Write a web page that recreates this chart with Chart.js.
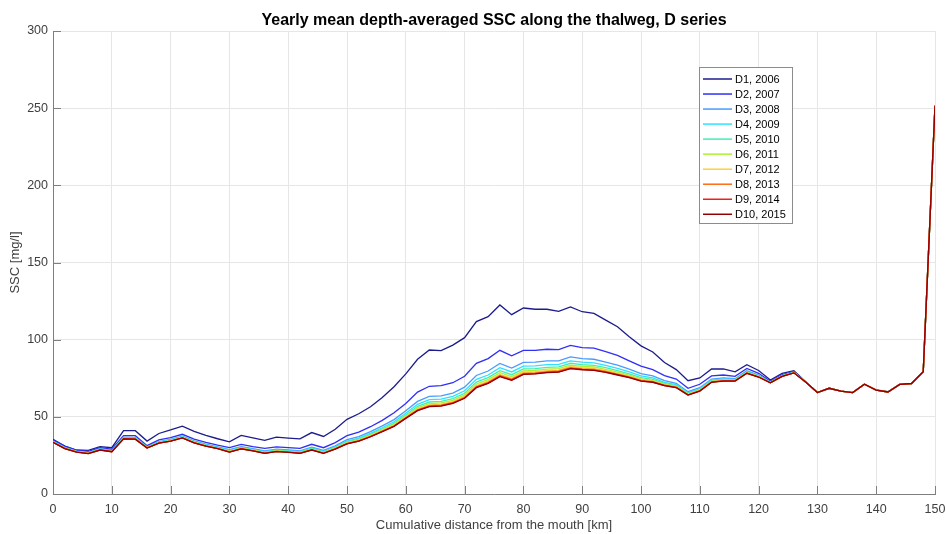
<!DOCTYPE html>
<html>
<head>
<meta charset="utf-8">
<script src="https://cdn.jsdelivr.net/npm/chart.js@4.4.1/dist/chart.umd.min.js"></script>
<style>
  html, body { margin: 0; padding: 0; background: #fff; }
  #wrap { width: 946px; height: 534px; }
</style>
</head>
<body>
<div id="wrap"><canvas id="ssc" width="946" height="534"></canvas></div>
<script>
// cumulative distance from the mouth [km]
const distance = [
  0, 2, 4, 6, 8, 10, 12, 14, 16, 18, 20, 22, 24, 26, 28, 30, 32, 34, 36, 38,
  40, 42, 44, 46, 48, 50, 52, 54, 56, 58, 60, 62, 64, 66, 68, 70, 72, 74, 76, 78,
  80, 82, 84, 86, 88, 90, 92, 94, 96, 98, 100, 102, 104, 106, 108, 110, 112, 114, 116, 118,
  120, 122, 124, 126, 128, 130, 132, 134, 136, 138, 140, 142, 144, 146, 148, 150
];

// yearly mean depth-averaged SSC [mg/l], one array per run
const d1 = [
  35.5, 31, 28.5, 28.3, 30.7, 30, 41, 41, 34.3, 39.2,
  41.5, 44, 40.6, 38, 35.8, 33.8, 38, 36.4, 34.7, 36.8,
  36.2, 35.7, 39.8, 37.3, 42, 48.4, 52, 56.5, 62.5, 69.5,
  77.8, 87.3, 93.3, 92.9, 96.5, 101.3, 111.7, 114.9, 122.5, 116.2,
  120.5, 119.7, 119.7, 118.4, 121.2, 118.1, 117, 112.7, 108.4, 101.9,
  96, 92, 85.2, 80.6, 73.4, 75.2, 81, 81, 79.2, 83.8,
  80, 73.9, 78.2, 79.9, 72.8, 65.7, 68.5, 66.7, 65.7, 71.1,
  67.4, 66.3, 71.1, 71.7, 79.3, 251.5
];
const d2 = [
  35, 31, 28.3, 27.7, 30, 29, 37.8, 37.8, 31.3, 35,
  36.5, 38.7, 35.6, 33.5, 31.7, 30.1, 32.2, 30.7, 29.6, 30.5,
  30, 29.6, 32.2, 30, 33.3, 37.8, 40.1, 43.6, 47.7, 52.6,
  58.7, 66, 69.8, 70.2, 72.1, 76.3, 84.7, 87.7, 93.1, 89.5,
  93, 93, 93.8, 93.6, 96.3, 94.8, 94.5, 92.2, 89.8, 86.3,
  82.8, 80.6, 76.7, 74.5, 68.5, 71.1, 76.5, 77.1, 76.2, 81.4,
  78.2, 73, 77.3, 79.2, 72.6, 65.7, 68.5, 66.7, 65.7, 71.1,
  67.3, 66.1, 71.0, 71.6, 79.3, 251.5
];
const d3 = [
  34.3, 30.2, 27.8, 27.0, 29.3, 28.2, 36.8, 36.7, 30.6, 34.0,
  35.4, 37.5, 34.4, 32.3, 30.6, 28.7, 30.7, 29.4, 28.0, 29.0,
  28.5, 28.0, 30.4, 28.2, 31.2, 35.2, 37.2, 40.4, 44.1, 48.2,
  53.9, 60.0, 63.2, 63.6, 65.4, 69.2, 76.8, 79.7, 84.6, 81.6,
  85.3, 85.4, 86.2, 86.3, 88.8, 87.7, 87.3, 85.5, 83.5, 80.9,
  78.0, 76.5, 73.5, 71.7, 66.3, 68.9, 74.5, 75.2, 74.7, 79.8,
  77.0, 72.5, 76.8, 78.9, 72.6, 65.7, 68.5, 66.7, 65.7, 71.1,
  67.3, 66.1, 71.0, 71.6, 79.3, 251.5
];
const d4 = [
  34.0, 29.9, 27.6, 26.7, 29.0, 27.9, 36.4, 36.3, 30.3, 33.6,
  35.0, 37.1, 34.0, 31.9, 30.2, 28.2, 30.2, 28.9, 27.4, 28.5,
  28.0, 27.4, 29.8, 27.6, 30.5, 34.3, 36.2, 39.3, 42.9, 46.8,
  52.3, 58.1, 61.1, 61.5, 63.3, 66.9, 74.3, 77.1, 81.8, 79.1,
  82.8, 83.0, 83.8, 84.0, 86.3, 85.4, 85.0, 83.4, 81.4, 79.1,
  76.5, 75.2, 72.4, 70.8, 65.6, 68.2, 73.8, 74.5, 74.2, 79.3,
  76.6, 72.3, 76.6, 78.7, 72.6, 65.7, 68.5, 66.7, 65.7, 71.1,
  67.3, 66.1, 71.0, 71.6, 79.3, 251.5
];
const d5 = [
  33.9, 29.8, 27.5, 26.6, 28.9, 27.8, 36.2, 36.0, 30.2, 33.4,
  34.7, 36.9, 33.8, 31.6, 29.9, 27.9, 29.9, 28.6, 27.1, 28.2,
  27.7, 27.1, 29.4, 27.2, 30.1, 33.7, 35.6, 38.6, 42.1, 45.8,
  51.2, 56.8, 59.6, 60.0, 61.8, 65.3, 72.5, 75.4, 79.9, 77.3,
  81.1, 81.3, 82.1, 82.4, 84.7, 83.8, 83.4, 81.9, 80.0, 77.9,
  75.4, 74.3, 71.7, 70.2, 65.1, 67.7, 73.3, 74.1, 73.9, 78.9,
  76.4, 72.2, 76.5, 78.7, 72.6, 65.7, 68.5, 66.7, 65.7, 71.1,
  67.3, 66.1, 71.0, 71.6, 79.3, 251.5
];
const d6 = [
  33.7, 29.6, 27.4, 26.4, 28.7, 27.6, 36.0, 35.9, 30.0, 33.2,
  34.6, 36.7, 33.6, 31.4, 29.7, 27.6, 29.7, 28.4, 26.8, 28.0,
  27.5, 26.8, 29.1, 26.9, 29.7, 33.3, 35.1, 38.1, 41.5, 45.1,
  50.5, 55.8, 58.6, 59.0, 60.7, 64.2, 71.3, 74.1, 78.6, 76.1,
  79.8, 80.1, 80.9, 81.2, 83.5, 82.7, 82.3, 80.8, 79.0, 77.0,
  74.6, 73.6, 71.2, 69.7, 64.8, 67.4, 73.0, 73.8, 73.7, 78.7,
  76.2, 72.2, 76.4, 78.6, 72.6, 65.7, 68.5, 66.7, 65.7, 71.1,
  67.3, 66.1, 71.0, 71.6, 79.3, 251.5
];
const d7 = [
  33.6, 29.5, 27.3, 26.3, 28.6, 27.5, 35.9, 35.7, 29.9, 33.1,
  34.4, 36.5, 33.4, 31.2, 29.6, 27.5, 29.5, 28.2, 26.6, 27.8,
  27.3, 26.6, 28.8, 26.6, 29.5, 33.0, 34.7, 37.7, 41.1, 44.6,
  49.9, 55.1, 57.8, 58.2, 59.9, 63.3, 70.3, 73.1, 77.5, 75.1,
  78.9, 79.2, 80.0, 80.3, 82.6, 81.8, 81.4, 80.0, 78.2, 76.4,
  74.1, 73.1, 70.8, 69.4, 64.5, 67.1, 72.8, 73.6, 73.5, 78.5,
  76.0, 72.1, 76.3, 78.6, 72.6, 65.7, 68.5, 66.7, 65.7, 71.1,
  67.3, 66.1, 71.0, 71.6, 79.3, 251.5
];
const d8 = [
  33.6, 29.5, 27.3, 26.3, 28.6, 27.5, 35.8, 35.6, 29.9, 33.0,
  34.3, 36.4, 33.3, 31.1, 29.5, 27.3, 29.3, 28.1, 26.5, 27.6,
  27.1, 26.5, 28.7, 26.5, 29.3, 32.7, 34.5, 37.4, 40.7, 44.2,
  49.4, 54.5, 57.2, 57.6, 59.3, 62.6, 69.6, 72.4, 76.8, 74.4,
  78.2, 78.5, 79.3, 79.7, 81.9, 81.1, 80.8, 79.4, 77.7, 75.9,
  73.6, 72.8, 70.5, 69.2, 64.3, 66.9, 72.6, 73.4, 73.3, 78.3,
  75.9, 72.0, 76.2, 78.5, 72.6, 65.7, 68.5, 66.7, 65.7, 71.1,
  67.3, 66.1, 71.0, 71.6, 79.3, 251.5
];
const d9 = [
  33.5, 29.4, 27.2, 26.2, 28.5, 27.4, 35.7, 35.5, 29.8, 32.9,
  34.2, 36.3, 33.2, 31.0, 29.4, 27.2, 29.3, 28.0, 26.4, 27.6,
  27.1, 26.4, 28.6, 26.4, 29.2, 32.6, 34.3, 37.2, 40.5, 43.9,
  49.2, 54.2, 56.8, 57.2, 58.9, 62.2, 69.1, 71.9, 76.3, 73.9,
  77.7, 78.0, 78.8, 79.2, 81.4, 80.7, 80.3, 79.0, 77.3, 75.6,
  73.3, 72.5, 70.3, 69.0, 64.2, 66.8, 72.5, 73.3, 73.3, 78.3,
  75.8, 72.0, 76.2, 78.5, 72.6, 65.7, 68.5, 66.7, 65.7, 71.1,
  67.3, 66.1, 71.0, 71.6, 79.3, 251.5
];
const d10 = [
  33.5, 29.4, 27.2, 26.2, 28.5, 27.4, 35.7, 35.5, 29.8, 32.9,
  34.2, 36.3, 33.2, 31.0, 29.4, 27.2, 29.2, 28.0, 26.3, 27.5,
  27.0, 26.3, 28.5, 26.3, 29.1, 32.5, 34.2, 37.1, 40.4, 43.8,
  49.0, 54.0, 56.6, 57.0, 58.7, 62.0, 68.9, 71.7, 76.0, 73.7,
  77.5, 77.8, 78.6, 79.0, 81.2, 80.5, 80.1, 78.8, 77.1, 75.4,
  73.2, 72.4, 70.2, 68.9, 64.1, 66.7, 72.4, 73.2, 73.2, 78.2,
  75.8, 72.0, 76.2, 78.5, 72.6, 65.7, 68.5, 66.7, 65.7, 71.1,
  67.3, 66.1, 71.0, 71.6, 79.3, 251.5
];

const seriesNames = [
  'D1, 2006', 'D2, 2007', 'D3, 2008', 'D4, 2009', 'D5, 2010',
  'D6, 2011', 'D7, 2012', 'D8, 2013', 'D9, 2014', 'D10, 2015'
];
const seriesValues = [d1, d2, d3, d4, d5, d6, d7, d8, d9, d10];
const seriesColors = [
  '#1c1c8c', '#2f2ff5', '#4a9bff', '#30e0ff', '#40f0b0',
  '#b0f030', '#ffcc40', '#ff6a10', '#f02020', '#900000'
];

const xTicks = [0, 10, 20, 30, 40, 50, 60, 70, 80, 90, 100, 110, 120, 130, 140, 150];
const yTicks = [0, 50, 100, 150, 200, 250, 300];

const FONT = '"Liberation Sans", Arial, Helvetica, sans-serif';
const TEXT = '#404040';
Chart.defaults.font.family = FONT;
Chart.defaults.color = TEXT;

const datasets = seriesValues.map((vals, i) => ({
  label: seriesNames[i],
  data: vals.map((v, k) => ({ x: distance[k], y: v })),
  borderColor: seriesColors[i],
  backgroundColor: seriesColors[i],
  borderWidth: 1.3,
  pointRadius: 0,
  tension: 0,
  fill: false,
  order: seriesValues.length - i   // later runs drawn on top
}));

// title, inward tick marks and boxed legend
const decorations = {
  id: 'decorations',
  afterDraw(chart) {
    const ctx = chart.ctx;
    const area = chart.chartArea;
    const sx = chart.scales.x, sy = chart.scales.y;

    ctx.save();
    ctx.fillStyle = '#000';
    ctx.font = 'bold 16px ' + FONT;
    ctx.textAlign = 'center';
    ctx.textBaseline = 'alphabetic';
    ctx.fillText('Yearly mean depth-averaged SSC along the thalweg, D series',
      (area.left + area.right) / 2, 25);

    ctx.strokeStyle = '#7f7f7f';
    ctx.lineWidth = 1;
    ctx.beginPath();
    xTicks.forEach(t => {
      const px = Math.round(sx.getPixelForValue(t)) + 0.5;
      ctx.moveTo(px, area.bottom);
      ctx.lineTo(px, area.bottom - 8);
    });
    yTicks.forEach(t => {
      const py = Math.round(sy.getPixelForValue(t)) + 0.5;
      ctx.moveTo(area.left, py);
      ctx.lineTo(area.left + 8, py);
    });
    ctx.stroke();

    // legend box
    const bx = 699.5, by = 67.5, bw = 93, bh = 156;
    ctx.fillStyle = '#fff';
    ctx.fillRect(bx, by, bw, bh);
    ctx.strokeStyle = '#8c8c8c';
    ctx.strokeRect(bx, by, bw, bh);
    ctx.font = '11px ' + FONT;
    ctx.textAlign = 'left';
    ctx.textBaseline = 'middle';
    seriesNames.forEach((name, i) => {
      const y = 79 + i * 15.03;
      ctx.strokeStyle = seriesColors[i];
      ctx.lineWidth = 1.5;
      ctx.beginPath();
      ctx.moveTo(703, y);
      ctx.lineTo(732, y);
      ctx.stroke();
      ctx.fillStyle = '#000';
      ctx.fillText(name, 735, y + 0.5);
    });
    ctx.restore();
  }
};

new Chart(document.getElementById('ssc'), {
  type: 'line',
  data: { datasets },
  options: {
    responsive: false,
    animation: false,
    layout: { padding: { top: 31, right: 11, left: 0, bottom: 0 } },
    plugins: {
      legend: { display: false },
      title: { display: false },
      tooltip: { enabled: false }
    },
    scales: {
      x: {
        type: 'linear',
        min: 0,
        max: 150,
        afterBuildTicks: s => { s.ticks = xTicks.map(v => ({ value: v })); },
        afterFit: s => { s.height = 40; s.paddingLeft = 0; s.paddingRight = 0; },
        ticks: { font: { size: 12.5 }, color: TEXT, padding: 8, maxRotation: 0 },
        grid: { color: '#e6e6e6', lineWidth: 1, drawTicks: false },
        border: { display: true, color: '#7f7f7f', width: 1 },
        title: {
          display: true,
          text: 'Cumulative distance from the mouth [km]',
          font: { size: 13 },
          color: TEXT,
          padding: { top: 0, bottom: 1 }
        }
      },
      y: {
        type: 'linear',
        min: 0,
        max: 300,
        afterBuildTicks: s => { s.ticks = yTicks.map(v => ({ value: v })); },
        afterFit: s => { s.width = 53; s.paddingTop = 0; s.paddingBottom = 0; },
        ticks: { font: { size: 12.5 }, color: TEXT, padding: 5 },
        grid: { color: '#e6e6e6', lineWidth: 1, drawTicks: false },
        border: { display: true, color: '#7f7f7f', width: 1 },
        title: {
          display: true,
          text: 'SSC [mg/l]',
          font: { size: 13 },
          color: TEXT,
          padding: { top: 8, bottom: 0 }
        }
      }
    }
  },
  plugins: [decorations]
});
</script>
</body>
</html>
